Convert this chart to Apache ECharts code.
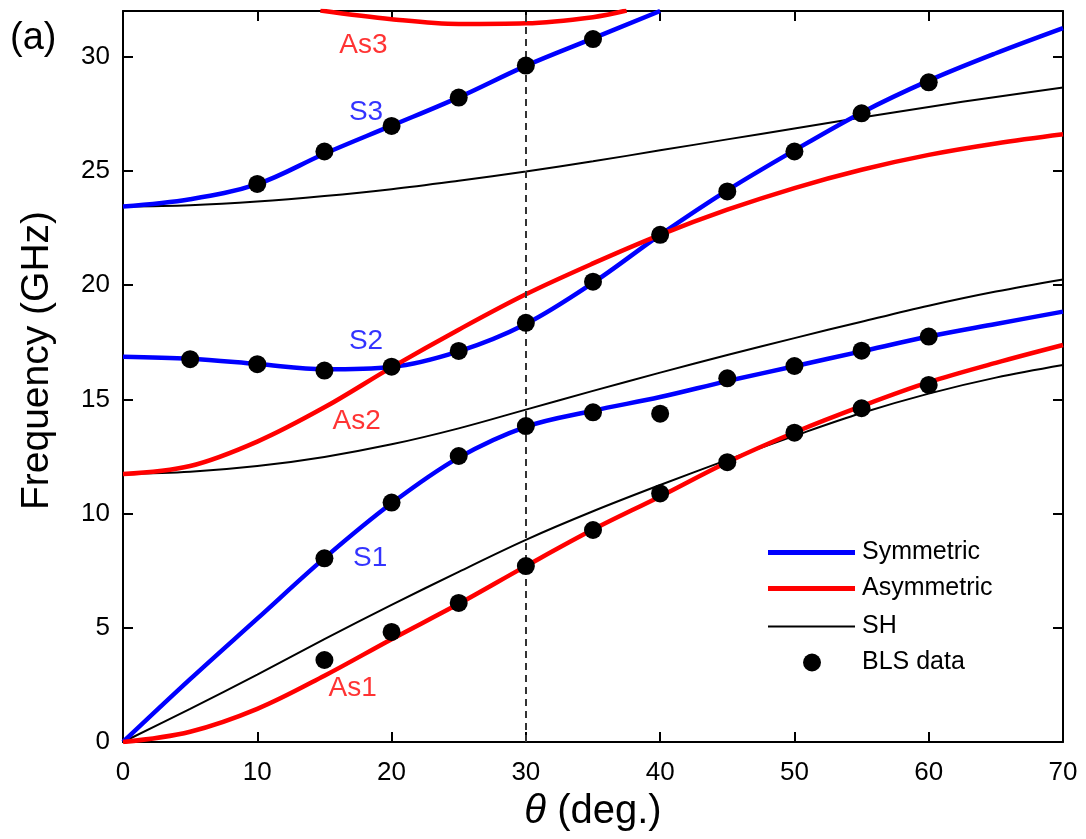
<!DOCTYPE html>
<html>
<head>
<meta charset="utf-8">
<script src="https://cdn.jsdelivr.net/npm/echarts@6/dist/echarts.min.js"></script>
<style>
html,body{margin:0;padding:0;background:#fff;}
#chart{width:1086px;height:839px;}
</style>
</head>
<body>
<div id="chart"></div>
<script>
// ---- data ----
const thetaGrid = [0,5,10,15,20,25,30,35,40,45,50,55,60,65,70];
const S1  = [0,2.75,5.4,8.05,10.45,12.45,13.8,14.5,15.1,15.8,16.45,17.1,17.75,18.3,18.84];
const S2  = [16.87,16.78,16.55,16.32,16.42,17.1,18.3,20.1,22.2,24.15,25.9,27.55,28.95,30.15,31.25];
const S3theta = [0,5,10,15,20,25,30,35,40];
const S3  = [23.44,23.76,24.42,25.75,26.98,28.22,29.6,30.8,32.0];
const As1 = [0,0.45,1.45,2.9,4.5,6.05,7.7,9.3,10.75,12.25,13.55,14.7,15.75,16.6,17.38];
const As2 = [11.73,12.08,13.15,14.65,16.4,18.05,19.6,20.95,22.2,23.3,24.25,25.05,25.7,26.2,26.6];
const As3theta = [14.7,20,25,30,35,37.5];
const As3 = [32.02,31.64,31.43,31.46,31.73,32.02];
const SH0 = [0,1.45,2.95,4.5,6.0,7.45,8.85,10.1,11.25,12.35,13.4,14.4,15.25,15.95,16.5];
const SH1 = [11.73,11.83,12.08,12.48,13.03,13.73,14.55,15.37,16.17,16.94,17.68,18.4,19.1,19.72,20.25];
const SH2 = [23.44,23.5,23.66,23.9,24.2,24.57,24.97,25.42,25.9,26.38,26.86,27.34,27.8,28.24,28.65];

const blsTheta = [10,15,20,25,30,35,
                  5,10,15,20,25,30,35,40,45,50,55,60,
                  15,20,25,30,35,40,45,50,55,60,
                  15,20,25,30,35,40,45,50,55,60];
const blsFreq  = [24.43,25.85,26.97,28.21,29.61,30.77,
                  16.76,16.54,16.26,16.43,17.12,18.35,20.15,22.2,24.1,25.85,27.52,28.88,
                  8.04,10.48,12.52,13.83,14.43,14.37,15.92,16.46,17.13,17.75,
                  3.59,4.82,6.09,7.7,9.28,10.88,12.25,13.54,14.61,15.63];

const markerTheta = 30;
const curveLabelText  = ['As3','S3','S2','As2','S1','As1'];
const curveLabelTheta = [17.9,18.1,18.1,17.4,18.4,17.1];
const curveLabelFreq  = [30.5,27.55,17.55,14.05,8.05,2.35];
const curveLabelKind  = ['a','s','s','a','s','a'];

const xTicks = {min:0, max:70, step:10};
const yTicks = {min:0, max:32, step:5};

// ---- build ----
const BLUE = '#0000ff', RED = '#ff0000', BLACK = '#000000';
const FONT = 'Liberation Sans, Arial, Helvetica, sans-serif';
const zip = (xs, ys) => xs.map((x, i) => [x, ys[i]]);

function lineSeries(name, xs, ys, color, width) {
  return {
    name: name, type: 'line', data: zip(xs, ys), smooth: 0.35,
    symbol: 'none', showSymbol: false, clip: true,
    lineStyle: {color: color, width: width},
    itemStyle: {color: color},
    z: width > 3 ? 3 : 2, silent: true, animation: false
  };
}

const series = [
  lineSeries('SH', thetaGrid, SH0, BLACK, 2),
  lineSeries('SH', thetaGrid, SH1, BLACK, 2),
  lineSeries('SH', thetaGrid, SH2, BLACK, 2),
  lineSeries('Symmetric', thetaGrid, S1, BLUE, 4.5),
  lineSeries('Symmetric', thetaGrid, S2, BLUE, 4.5),
  lineSeries('Symmetric', S3theta, S3, BLUE, 4.5),
  lineSeries('Asymmetric', thetaGrid, As1, RED, 4.5),
  lineSeries('Asymmetric', thetaGrid, As2, RED, 4.5),
  lineSeries('Asymmetric', As3theta, As3, RED, 4.5),
  {
    name: 'BLS data', type: 'scatter', data: zip(blsTheta, blsFreq),
    symbol: 'circle', symbolSize: 18, itemStyle: {color: BLACK, opacity: 1},
    z: 5, silent: true, animation: false,
    markLine: {
      silent: true, symbol: 'none', animation: false,
      label: {show: false},
      lineStyle: {color: '#333333', width: 2, type: [7, 5]},
      data: [{xAxis: markerTheta}]
    }
  },
  {
    name: 'curveLabels', type: 'scatter', symbolSize: 0, silent: true, animation: false,
    data: curveLabelText.map((t, i) => ({
      name: t, value: [curveLabelTheta[i], curveLabelFreq[i]],
      label: {color: curveLabelKind[i] === 's' ? BLUE : RED}
    })),
    label: {show: true, position: 'inside', formatter: p => p.name,
            fontSize: 28, fontFamily: FONT},
    z: 6
  }
];

function legendItem(name, icon, w, h, left, top, textPad) {
  return {
    data: [{name: name, icon: icon}],
    left: left, top: top, itemWidth: w, itemHeight: h, itemGap: 0,
    selectedMode: false, padding: 0,
    textStyle: {fontSize: 25, fontFamily: FONT, color: '#000', padding: [0,0,0,textPad]}
  };
}

const axisCommonX = {
  type: 'value', min: xTicks.min, max: xTicks.max, interval: xTicks.step,
  splitLine: {show: false},
  axisLine: {show: true, onZero: false, lineStyle: {color: '#000', width: 2}},
  axisTick: {show: true, inside: true, length: 10, lineStyle: {color: '#000', width: 2}}
};
const yFmt = v => (v % yTicks.step === 0 ? String(v) : '');
const axisCommonY = {
  type: 'value', min: yTicks.min, max: yTicks.max, interval: yTicks.step,
  splitLine: {show: false},
  axisLine: {show: true, onZero: false, lineStyle: {color: '#000', width: 2}},
  axisTick: {show: true, inside: true, length: 10, lineStyle: {color: '#000', width: 2}}
};

const option = {
  animation: false,
  backgroundColor: '#fff',
  textStyle: {fontFamily: FONT},
  grid: {left: 123, right: 23, top: 11, bottom: 97, containLabel: false},
  xAxis: [
    Object.assign({}, axisCommonX, {
      position: 'bottom',
      name: '{i|θ} (deg.)', nameLocation: 'middle', nameGap: 50,
      nameTextStyle: {fontSize: 40, color: '#000', fontFamily: FONT,
        rich: {i: {fontStyle: 'italic', fontSize: 40, fontFamily: FONT, color: '#000'}}},
      axisLabel: {show: true, fontSize: 26, color: '#000', fontFamily: FONT, margin: 18}
    }),
    Object.assign({}, axisCommonX, {position: 'top', axisLabel: {show: false}})
  ],
  yAxis: [
    Object.assign({}, axisCommonY, {
      position: 'left',
      name: 'Frequency (GHz)', nameLocation: 'middle', nameGap: 66,
      nameTextStyle: {fontSize: 39, color: '#000', fontFamily: FONT, padding: [0,0,0,32]},
      axisLabel: {show: true, fontSize: 26, color: '#000', fontFamily: FONT, margin: 13,
                  formatter: yFmt, showMaxLabel: false}
    }),
    Object.assign({}, axisCommonY, {position: 'right', axisLabel: {show: false}})
  ],
  legend: [
    legendItem('Symmetric', 'rect', 87, 5, 768, 540, 2),
    legendItem('Asymmetric', 'rect', 87, 5, 768, 576, 2),
    legendItem('SH', 'rect', 87, 2, 768, 614, 2),
    legendItem('BLS data', 'circle', 18, 18, 803, 650, 36)
  ],
  graphic: [{
    type: 'text', left: 10, top: 20,
    style: {text: '(a)', fontSize: 38, fontFamily: FONT, fill: '#000'}
  }],
  series: series
};

const chart = echarts.init(document.getElementById('chart'), null, {renderer: 'canvas'});
chart.setOption(option);
</script>
</body>
</html>
